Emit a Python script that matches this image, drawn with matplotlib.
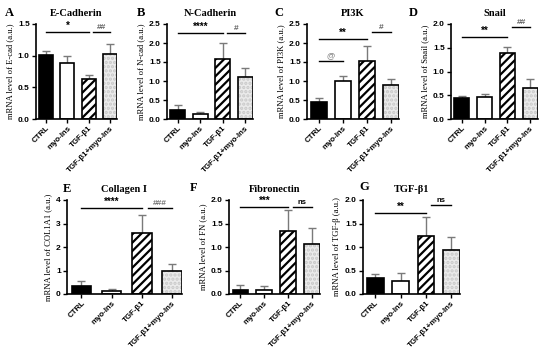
import matplotlib
matplotlib.use("Agg")
import matplotlib.pyplot as plt
import numpy as np

plt.rcParams['hatch.linewidth'] = 1.6

groups = ["CTRL", "myo-Ins", "TGF-β1", "TGF-β1+myo-Ins"]

titles = ["E-Cadherin", "N-Cadherin", "PI3K", "Snail", "Collagen I", "Fibronectin", "TGF-β1"]
letters = ["A", "B", "C", "D", "E", "F", "G"]
ylabels = ["mRNA level of E-cad (a.u.)", "mRNA level of N-cad (a.u.)",
           "mRNA level of PI3K (a.u.)", "mRNA level of Snail (a.u.)",
           "mRNA level of COL1A1 (a.u.)", "mRNA level of FN (a.u.)",
           "mRNA level of TGF-β (a.u.)"]

ecad_mean = [1.01, 0.88, 0.63, 1.03]
ecad_err = [0.07, 0.12, 0.07, 0.16]
ncad_mean = [0.23, 0.13, 1.58, 1.10]
ncad_err = [0.15, 0.05, 0.43, 0.23]
pi3k_mean = [0.45, 1.01, 1.53, 0.90]
pi3k_err = [0.09, 0.13, 0.38, 0.14]
snail_mean = [0.45, 0.46, 1.40, 0.66]
snail_err = [0.04, 0.07, 0.11, 0.18]
col_mean = [0.32, 0.13, 2.58, 1.00]
col_err = [0.23, 0.08, 0.80, 0.27]
fn_mean = [0.08, 0.08, 1.34, 1.06]
fn_err = [0.12, 0.10, 0.45, 0.34]
tgf_mean = [0.33, 0.28, 1.23, 0.94]
tgf_err = [0.10, 0.17, 0.41, 0.27]

means = [ecad_mean, ncad_mean, pi3k_mean, snail_mean, col_mean, fn_mean, tgf_mean]
errs = [ecad_err, ncad_err, pi3k_err, snail_err, col_err, fn_err, tgf_err]
ylims = [1.5, 2.5, 2.5, 2.0, 4.0, 2.0, 2.0]
yticks = [[0.0, 0.5, 1.0, 1.5], [0.0, 0.5, 1.0, 1.5, 2.0, 2.5],
          [0.0, 0.5, 1.0, 1.5, 2.0, 2.5], [0.0, 0.5, 1.0, 1.5, 2.0],
          [0, 1, 2, 3, 4], [0.0, 0.5, 1.0, 1.5, 2.0], [0.0, 0.5, 1.0, 1.5, 2.0]]
ytick_fmt = ["{:.1f}", "{:.1f}", "{:.1f}", "{:.1f}", "{:.0f}", "{:.1f}", "{:.1f}"]

# significance annotations: (group_from, group_to, height, label, color)
sigs = [
    [(0, 2, 1.37, "*", "black"), (2.2, 3, 1.37, "##", "#666666")],
    [(0, 2, 2.26, "****", "black"), (2.2, 3, 2.26, "#", "#666666")],
    [(0, 2, 2.10, "**", "black"), (2.2, 3, 2.29, "#", "#666666"), (0, 1, 1.53, "@", "#888888")],
    [(0, 2, 1.73, "**", "black"), (2.2, 3, 1.93, "##", "#666666")],
    [(0, 2, 3.65, "****", "black"), (2.2, 3, 3.65, "###", "#777777")],
    [(0, 2, 1.85, "***", "black"), (2.2, 3, 1.85, "ns", "black")],
    [(0, 2, 1.72, "**", "black"), (2.2, 3, 1.89, "ns", "black")],
]

W, H = 550, 351
# axes boxes in pixels: left, right, top, bottom
boxes = [(36, 117, 24, 119), (167, 253, 24, 119), (307, 399, 24, 119), (451, 538, 24, 119),
         (67, 182, 200, 294), (229, 320, 200, 294), (363, 460, 200, 294)]
letter_pos = [(5, 13), (137, 13), (274, 13), (409, 13), (63, 189), (190, 188), (359, 187)]

fig = plt.figure(figsize=(W / 100, H / 100), dpi=100)

serif = "Liberation Serif"
sans = "Liberation Sans"

for i in range(7):
    l, r, t, b = boxes[i]
    ax = fig.add_axes([l / W, 1 - b / H, (r - l) / W, (b - t) / H])
    x = np.arange(4)
    bw = 0.66
    for j in range(4):
        if j == 0:
            ax.bar(x[j], means[i][j], width=bw, color="black", edgecolor="black",
                   linewidth=1.2, zorder=2)
        elif j == 1:
            ax.bar(x[j], means[i][j], width=bw, color="white", edgecolor="black",
                   linewidth=1.2, zorder=2)
        elif j == 2:
            ax.bar(x[j], means[i][j], width=bw, color="white", edgecolor="black",
                   linewidth=1.2, hatch="////", zorder=2)
        else:
            ax.bar(x[j], means[i][j], width=bw, color="#ebebeb", edgecolor="#c8c8c8",
                   linewidth=0, hatch="....", zorder=2)
            ax.bar(x[j], means[i][j], width=bw, color="none", edgecolor="black",
                   linewidth=1.2, zorder=2.5)
        ax.errorbar(x[j], means[i][j], yerr=[[0], [errs[i][j]]], fmt="none",
                    ecolor="#7a7a7a", elinewidth=1.0, capsize=3, capthick=1.0, zorder=1)
    ax.set_xlim(-0.48, 3.34)
    ax.set_ylim(0, ylims[i])
    ax.set_yticks(yticks[i])
    ax.set_yticklabels([ytick_fmt[i].format(v) for v in yticks[i]],
                       fontsize=6, fontweight="bold", family=sans)
    ax.set_xticks(x)
    ax.set_xticklabels(groups, rotation=45, ha="right", rotation_mode="anchor",
                       fontsize=5.7, fontweight="bold", family=sans)
    ax.spines["top"].set_visible(False)
    ax.spines["right"].set_visible(False)
    ax.spines["left"].set_linewidth(1.2)
    ax.spines["bottom"].set_linewidth(1.2)
    ax.tick_params(axis="both", width=1.0, length=3, pad=1.5)
    ax.tick_params(axis="x", pad=1.0)
    ax.set_ylabel(ylabels[i], fontsize=6.2, family=serif, labelpad=3)
    ax.set_title(titles[i], fontsize=7.5, fontweight="bold", family=serif, pad=6)
    for (a, c, h, lab, col) in sigs[i]:
        ax.plot([a, c], [h, h], color="black", lw=1.0, clip_on=False, zorder=3)
        fs = 5.5 if lab == "ns" else (6 if "#" in lab or "@" in lab else 7)
        ax.text((a + c) / 2, h + ylims[i] * 0.015, lab, ha="center", va="bottom",
                fontsize=fs, fontweight="bold", color=col, family=sans)
    lx, ly = letter_pos[i]
    fig.text(lx / W, 1 - ly / H, letters[i], fontsize=9, fontweight="bold",
             family=serif, ha="left", va="center")

fig.savefig("out.png", dpi=100)
